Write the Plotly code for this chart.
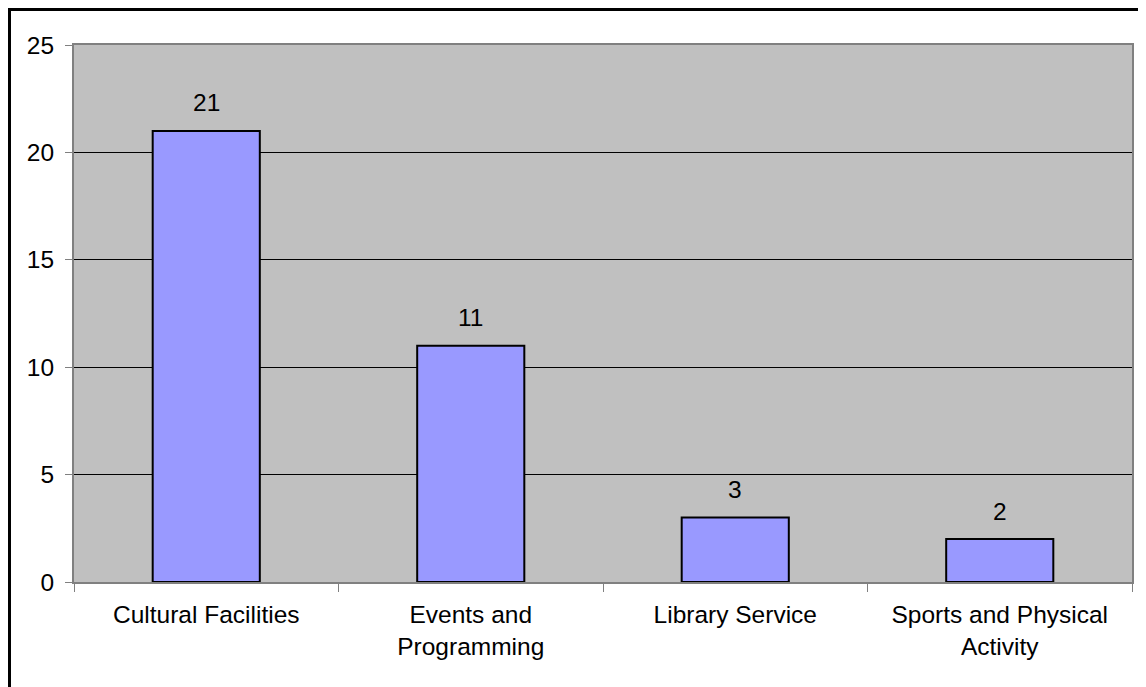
import plotly.graph_objects as go

categories = ["Cultural Facilities", "Events and<br>Programming", "Library Service", "Sports and Physical<br>Activity"]
values = [21, 11, 3, 2]
y_ticks = [0, 5, 10, 15, 20, 25]

W, H = 1146, 687
OFF = 8  # browser default body margin
L, R, T, B = 74, 1132, 45, 582
FONT = "Liberation Sans, Arial, sans-serif"
FS = 24.5

fig = go.Figure()
fig.add_trace(go.Bar(
    x=categories, y=values, width=0.405,
    marker=dict(color="#9999FF", line=dict(color="black", width=2)),
    hoverinfo="x+y",
))
for c, v in zip(categories, values):
    fig.add_annotation(x=c, y=v, text=str(v), showarrow=False, yanchor="middle",
                       yshift=28, font=dict(size=FS, color="black", family=FONT))

fig.update_layout(
    width=W - OFF, height=H - OFF,
    margin=dict(l=L - OFF, r=W - R, t=T - OFF, b=H - B, pad=0),
    paper_bgcolor="white", plot_bgcolor="#C0C0C0",
    font=dict(family=FONT, size=FS, color="black"),
    showlegend=False,
)
fig.update_xaxes(
    showline=True, linecolor="#808080", linewidth=2, mirror=True,
    ticks="outside", tickson="boundaries", ticklen=8, tickcolor="#808080", tickwidth=1,
    showgrid=False, tickfont=dict(size=FS), ticklabelstandoff=10,
)
fig.update_yaxes(
    range=[0, 25], tickvals=y_ticks, showline=True, linecolor="#808080", linewidth=2, mirror=True,
    ticks="outside", ticklen=7, tickcolor="#808080", tickwidth=1,
    showgrid=True, gridcolor="black", gridwidth=1, zeroline=False,
    tickfont=dict(size=FS), ticklabelstandoff=6,
)
# outer chart border (top and left visible, others cropped off)
pw = R - L
ph = B - T
bx, by = OFF + 1.5, OFF + 1.5
fig.add_shape(type="rect", xref="paper", yref="paper",
              x0=(bx - L) / pw, x1=(W + 20 - L) / pw,
              y0=(B - (H + 20)) / ph, y1=(B - by) / ph,
              line=dict(color="black", width=3), fillcolor="rgba(0,0,0,0)", layer="above")
fig.write_html("out.html")
